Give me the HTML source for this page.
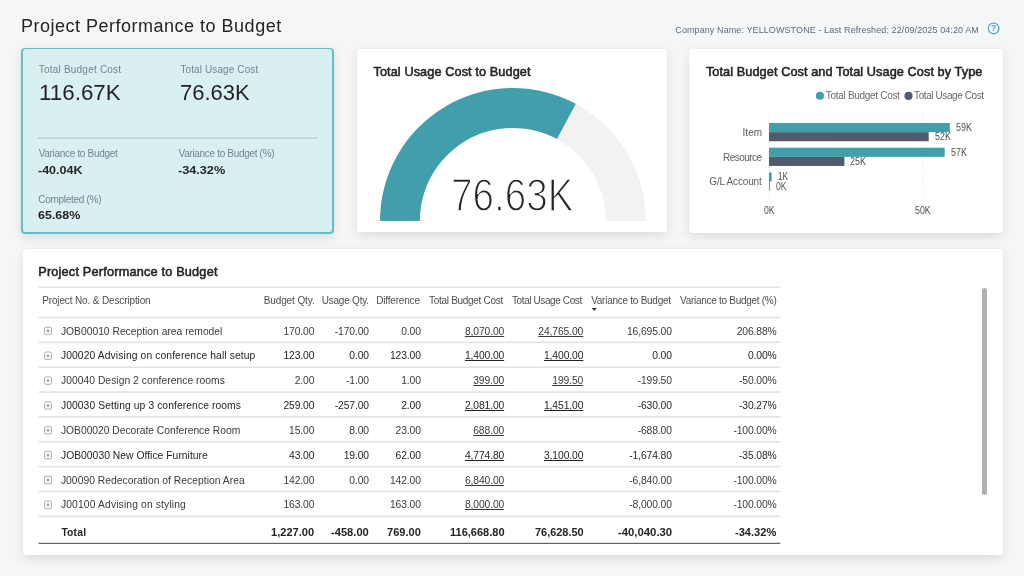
<!DOCTYPE html>
<html lang="en">
<head>
<meta charset="utf-8">
<title>Project Performance to Budget</title>
<style>
*{box-sizing:border-box;margin:0;padding:0}
html,body{width:1024px;height:576px;overflow:hidden}
body{background:#f5f6f8;font-family:"Liberation Sans",Arial,sans-serif;color:#252423;position:relative}
.t{position:absolute;white-space:nowrap;line-height:1;font-weight:400;transform-origin:0 50%;display:block}
.b{font-weight:700}
.sb{-webkit-text-stroke:.55px currentColor}
.card{will-change:transform;position:absolute}
.bg{position:absolute;background:#fff;border-radius:3.5px;box-shadow:0 3.2px 11px rgba(0,0,0,.10),0 0 2px rgba(0,0,0,.05)}
.bg.sel{background:#60bfc8;border-radius:4px}
.bg.sel:before{content:"";position:absolute;left:1.55px;top:1.55px;right:1.55px;bottom:1.55px;background:#d9f0f3;border-radius:2.5px}
.u{text-decoration:underline;text-decoration-thickness:.8px;text-underline-offset:1.2px}
svg{position:absolute;left:0;top:0;overflow:visible}
body:after{content:"";position:absolute;right:0;top:0;width:1px;height:576px;background:#f9fafb}
</style>
</head>
<body>
<header style="will-change:transform;position:absolute;left:0;top:0;width:1024px;height:46px">
<h1 class="t" style="left:21.06px;top:17.1px;font-size:18px;letter-spacing:0.499px;color:#252423;">Project Performance to Budget</h1>
<span class="t" style="left:675.3px;top:26.1px;font-size:9px;letter-spacing:0.092px;color:#5f6b78;">Company Name: YELLOWSTONE - Last Refreshed: 22/09/2025 04:20 AM</span>
<svg width="1024" height="50" viewBox="0 0 1024 50"><circle cx="993.6" cy="28.4" r="5.35" fill="none" stroke="#4fa7b1" stroke-width="1.25"/><text x="993.6" y="31.4" font-size="8.2" font-weight="700" text-anchor="middle" fill="#4aa3ae" font-family="Liberation Sans, Arial, sans-serif">?</text></svg>
</header>
<section class="card" style="left:5px;top:33px;width:347px;height:225px">
<div class="bg sel" style="left:16.4px;top:14.6px;width:312.6px;height:186.4px"></div>
<span class="t" style="left:33.8px;top:32.1px;font-size:10px;letter-spacing:0.209px;color:#73828f;">Total Budget Cost</span>
<span class="t" style="left:33.72px;top:48.1px;font-size:22.7px;transform:scaleX(0.9861);color:#252423;">116.67K</span>
<span class="t" style="left:175.4px;top:32.1px;font-size:10px;letter-spacing:0.11px;color:#73828f;">Total Usage Cost</span>
<span class="t" style="left:174.7px;top:48.1px;font-size:22.7px;transform:scaleX(0.9689);color:#252423;">76.63K</span>
<svg width="340" height="200"><rect x="32.8" y="104.45" width="279.9" height="1.15" fill="#b7c6ce"/></svg>
<span class="t" style="left:33.65px;top:116.1px;font-size:10px;letter-spacing:-0.306px;color:#73828f;">Variance to Budget</span>
<span class="t b" style="left:33.2px;top:131.1px;font-size:11.7px;transform:scaleX(1.0705);color:#252423;">-40.04K</span>
<span class="t" style="left:173.55px;top:116.1px;font-size:10px;letter-spacing:-0.317px;color:#73828f;">Variance to Budget (%)</span>
<span class="t b" style="left:173.09px;top:131.1px;font-size:11.7px;transform:scaleX(1.0836);color:#252423;">-34.32%</span>
<span class="t" style="left:33.2px;top:162.1px;font-size:10px;letter-spacing:-0.279px;color:#73828f;">Completed (%)</span>
<span class="t b" style="left:33.26px;top:176.1px;font-size:11.7px;transform:scaleX(1.0687);color:#252423;">65.68%</span>
</section>
<section class="card" style="left:341px;top:35px;width:345px;height:221px">
<div class="bg" style="left:16px;top:14.3px;width:310.2px;height:182.7px"></div>
<h2 class="t sb" style="left:32.45px;top:31.1px;font-size:12.7px;letter-spacing:0.106px;color:#252423;">Total Usage Cost to Budget</h2>
<svg width="340" height="200"><path d="M39.00 186.00 A132.95 132.95 0 0 1 304.90 186.00 L265.05 186.00 A93.10 93.10 0 0 0 78.85 186.00 Z" fill="#f3f2f1"/><path d="M39.00 186.00 A132.95 132.95 0 0 1 234.83 68.86 L215.98 103.97 A93.10 93.10 0 0 0 78.85 186.00 Z" fill="#419eab"/></svg>
<span class="t" style="left:110.27px;top:137.1px;font-size:46.6px;transform:scaleX(0.8294);color:#252423;-webkit-text-stroke:1.5px #fff;">76.63K</span>
</section>
<section class="card" style="left:673px;top:35px;width:348px;height:222px">
<div class="bg" style="left:16px;top:14.3px;width:314px;height:183.3px"></div>
<h2 class="t sb" style="left:32.95px;top:31.1px;font-size:12.7px;letter-spacing:0.087px;color:#252423;">Total Budget Cost and Total Usage Cost by Type</h2>
<svg width="340" height="200"><line x1="96" y1="78" x2="96" y2="163" stroke="#cfcfcf" stroke-width="0.8" stroke-dasharray="0.8 2.4"/><line x1="250.2" y1="78" x2="250.2" y2="163" stroke="#cfcfcf" stroke-width="0.8" stroke-dasharray="0.8 2.4"/><circle cx="146.9" cy="60.8" r="4.05" fill="#419eab"/><circle cx="235.5" cy="60.9" r="4.05" fill="#525b6e"/><rect x="96" y="88" width="180.8" height="9.15" fill="#419eab"/><rect x="96" y="97.15" width="159.7" height="9.1" fill="#525b6e"/><rect x="96" y="112.7" width="175.7" height="9.15" fill="#419eab"/><rect x="96" y="121.85" width="75.4" height="9.1" fill="#525b6e"/><rect x="96" y="137.4" width="2.6" height="9.15" fill="#419eab"/><rect x="96" y="146.55" width="0.7" height="9.1" fill="#525b6e"/></svg>
<span class="t" style="left:152.8px;top:56.1px;font-size:10px;letter-spacing:-0.303px;color:#6b6967;">Total Budget Cost</span>
<span class="t" style="left:241.1px;top:56.1px;font-size:10px;letter-spacing:-0.41px;color:#6b6967;">Total Usage Cost</span>
<span class="t" style="left:69.5px;top:93.1px;font-size:10px;letter-spacing:0.067px;color:#605e5c;">Item</span>
<span class="t" style="left:50.1px;top:118.1px;font-size:10px;letter-spacing:-0.536px;color:#605e5c;">Resource</span>
<span class="t" style="left:36.3px;top:142.1px;font-size:10px;letter-spacing:-0.165px;color:#605e5c;">G/L Account</span>
<span class="t" style="left:283.24px;top:88.1px;font-size:10px;transform:scaleX(0.8928);color:#52504e;">59K</span>
<span class="t" style="left:262.34px;top:97.1px;font-size:10px;transform:scaleX(0.8928);color:#52504e;">52K</span>
<span class="t" style="left:278.24px;top:113.1px;font-size:10px;transform:scaleX(0.8928);color:#52504e;">57K</span>
<span class="t" style="left:177.45px;top:122.1px;font-size:10px;transform:scaleX(0.8980);color:#52504e;">25K</span>
<span class="t" style="left:105.29px;top:137.1px;font-size:10px;transform:scaleX(0.8194);color:#52504e;">1K</span>
<span class="t" style="left:103.36px;top:147.1px;font-size:10px;transform:scaleX(0.8547);color:#52504e;">0K</span>
<span class="t" style="left:91.15px;top:171.1px;font-size:10px;transform:scaleX(0.8632);color:#52504e;">0K</span>
<span class="t" style="left:242.25px;top:171.1px;font-size:10px;transform:scaleX(0.8812);color:#52504e;">50K</span>
</section>
<section class="card" style="left:7px;top:234px;width:1014px;height:342px">
<div class="bg" style="left:16px;top:14.6px;width:980px;height:306.5px"></div>
<h2 class="t sb" style="left:31.23px;top:32.1px;font-size:12.7px;letter-spacing:0.204px;color:#252423;">Project Performance to Budget</h2>
<div class="thead" role="row">
<span class="t" style="left:35.2px;top:62.1px;font-size:10px;letter-spacing:-0.135px;color:#504e4c;">Project No. &amp; Description</span>
<span class="t" style="left:256.7px;top:62.1px;font-size:10px;letter-spacing:-0.105px;color:#504e4c;">Budget Qty.</span>
<span class="t" style="left:314.75px;top:62.1px;font-size:10px;letter-spacing:-0.222px;color:#504e4c;">Usage Qty.</span>
<span class="t" style="left:369.3px;top:62.1px;font-size:10px;letter-spacing:-0.194px;color:#504e4c;">Difference</span>
<span class="t" style="left:422.1px;top:62.1px;font-size:10px;letter-spacing:-0.303px;color:#504e4c;">Total Budget Cost</span>
<span class="t" style="left:505px;top:62.1px;font-size:10px;letter-spacing:-0.397px;color:#504e4c;">Total Usage Cost</span>
<span class="t" style="left:584.15px;top:62.1px;font-size:10px;letter-spacing:-0.259px;color:#504e4c;">Variance to Budget</span>
<span class="t" style="left:673.05px;top:62.1px;font-size:10px;letter-spacing:-0.283px;color:#504e4c;">Variance to Budget (%)</span>
</div>
<svg width="980" height="300"><path d="M584.8 73.9 h5 l-2.5 2.9z" fill="#252423"/></svg>
<div class="tr" role="row"><svg width="980" height="320"><rect x="37.5" y="93.2" width="7" height="7.4" rx="1.5" fill="none" stroke="#a9a7a5" stroke-width=".9"/><path d="M39.3 96.9h3.4M41 95.2v3.4" stroke="#8f8d8b" stroke-width=".9" fill="none"/></svg><span class="t" style="left:53.95px;top:93.1px;font-size:10.3px;color:#3b3a39;">JOB00010 Reception area remodel</span><span class="t" style="left:276.44px;top:93.1px;font-size:10.3px;letter-spacing:-0.1px;color:#3b3a39;">170.00</span><span class="t" style="left:327.74px;top:93.1px;font-size:10.3px;letter-spacing:-0.1px;color:#3b3a39;">-170.00</span><span class="t" style="left:394.23px;top:93.1px;font-size:10.3px;letter-spacing:-0.1px;color:#3b3a39;">0.00</span><span class="t u" style="left:457.89px;top:93.1px;font-size:10.3px;letter-spacing:-0.1px;color:#3b3a39;">8,070.00</span><span class="t u" style="left:531.33px;top:93.1px;font-size:10.3px;letter-spacing:-0.1px;color:#3b3a39;">24,765.00</span><span class="t" style="left:619.93px;top:93.1px;font-size:10.3px;letter-spacing:-0.1px;color:#3b3a39;">16,695.00</span><span class="t" style="left:729.68px;top:93.1px;font-size:10.3px;letter-spacing:-0.1px;color:#3b3a39;">206.88%</span></div>
<div class="tr" role="row"><svg width="980" height="320"><rect x="37.5" y="118.05" width="7" height="7.4" rx="1.5" fill="none" stroke="#a9a7a5" stroke-width=".9"/><path d="M39.3 121.75h3.4M41 120.05v3.4" stroke="#8f8d8b" stroke-width=".9" fill="none"/></svg><span class="t" style="left:53.95px;top:117.1px;font-size:10.3px;letter-spacing:0.11px;color:#252423;">J00020 Advising on conference hall setup</span><span class="t" style="left:276.44px;top:117.1px;font-size:10.3px;letter-spacing:-0.1px;color:#252423;">123.00</span><span class="t" style="left:342.33px;top:117.1px;font-size:10.3px;letter-spacing:-0.1px;color:#252423;">0.00</span><span class="t" style="left:382.94px;top:117.1px;font-size:10.3px;letter-spacing:-0.1px;color:#252423;">123.00</span><span class="t u" style="left:457.89px;top:117.1px;font-size:10.3px;letter-spacing:-0.1px;color:#252423;">1,400.00</span><span class="t u" style="left:536.99px;top:117.1px;font-size:10.3px;letter-spacing:-0.1px;color:#252423;">1,400.00</span><span class="t" style="left:645.23px;top:117.1px;font-size:10.3px;letter-spacing:-0.1px;color:#252423;">0.00</span><span class="t" style="left:740.96px;top:117.1px;font-size:10.3px;letter-spacing:-0.1px;color:#252423;">0.00%</span></div>
<div class="tr" role="row"><svg width="980" height="320"><rect x="37.5" y="142.9" width="7" height="7.4" rx="1.5" fill="none" stroke="#a9a7a5" stroke-width=".9"/><path d="M39.3 146.6h3.4M41 144.9v3.4" stroke="#8f8d8b" stroke-width=".9" fill="none"/></svg><span class="t" style="left:53.95px;top:142.1px;font-size:10.3px;letter-spacing:0.044px;color:#3b3a39;">J00040 Design 2 conference rooms</span><span class="t" style="left:287.73px;top:142.1px;font-size:10.3px;letter-spacing:-0.1px;color:#3b3a39;">2.00</span><span class="t" style="left:338.98px;top:142.1px;font-size:10.3px;letter-spacing:-0.1px;color:#3b3a39;">-1.00</span><span class="t" style="left:394.23px;top:142.1px;font-size:10.3px;letter-spacing:-0.1px;color:#3b3a39;">1.00</span><span class="t u" style="left:466.24px;top:142.1px;font-size:10.3px;letter-spacing:-0.1px;color:#3b3a39;">399.00</span><span class="t u" style="left:545.34px;top:142.1px;font-size:10.3px;letter-spacing:-0.1px;color:#3b3a39;">199.50</span><span class="t" style="left:630.64px;top:142.1px;font-size:10.3px;letter-spacing:-0.1px;color:#3b3a39;">-199.50</span><span class="t" style="left:731.99px;top:142.1px;font-size:10.3px;letter-spacing:-0.1px;color:#3b3a39;">-50.00%</span></div>
<div class="tr" role="row"><svg width="980" height="320"><rect x="37.5" y="167.75" width="7" height="7.4" rx="1.5" fill="none" stroke="#a9a7a5" stroke-width=".9"/><path d="M39.3 171.45h3.4M41 169.75v3.4" stroke="#8f8d8b" stroke-width=".9" fill="none"/></svg><span class="t" style="left:53.95px;top:167.1px;font-size:10.3px;letter-spacing:0.087px;color:#252423;">J00030 Setting up 3 conference rooms</span><span class="t" style="left:276.44px;top:167.1px;font-size:10.3px;letter-spacing:-0.1px;color:#252423;">259.00</span><span class="t" style="left:327.74px;top:167.1px;font-size:10.3px;letter-spacing:-0.1px;color:#252423;">-257.00</span><span class="t" style="left:394.23px;top:167.1px;font-size:10.3px;letter-spacing:-0.1px;color:#252423;">2.00</span><span class="t u" style="left:457.89px;top:167.1px;font-size:10.3px;letter-spacing:-0.1px;color:#252423;">2,081.00</span><span class="t u" style="left:536.99px;top:167.1px;font-size:10.3px;letter-spacing:-0.1px;color:#252423;">1,451.00</span><span class="t" style="left:630.64px;top:167.1px;font-size:10.3px;letter-spacing:-0.1px;color:#252423;">-630.00</span><span class="t" style="left:731.99px;top:167.1px;font-size:10.3px;letter-spacing:-0.1px;color:#252423;">-30.27%</span></div>
<div class="tr" role="row"><svg width="980" height="320"><rect x="37.5" y="192.6" width="7" height="7.4" rx="1.5" fill="none" stroke="#a9a7a5" stroke-width=".9"/><path d="M39.3 196.3h3.4M41 194.6v3.4" stroke="#8f8d8b" stroke-width=".9" fill="none"/></svg><span class="t" style="left:53.95px;top:192.1px;font-size:10.3px;letter-spacing:-0.014px;color:#3b3a39;">JOB00020 Decorate Conference Room</span><span class="t" style="left:282.11px;top:192.1px;font-size:10.3px;letter-spacing:-0.1px;color:#3b3a39;">15.00</span><span class="t" style="left:342.33px;top:192.1px;font-size:10.3px;letter-spacing:-0.1px;color:#3b3a39;">8.00</span><span class="t" style="left:388.61px;top:192.1px;font-size:10.3px;letter-spacing:-0.1px;color:#3b3a39;">23.00</span><span class="t u" style="left:466.24px;top:192.1px;font-size:10.3px;letter-spacing:-0.1px;color:#3b3a39;">688.00</span><span class="t" style="left:630.64px;top:192.1px;font-size:10.3px;letter-spacing:-0.1px;color:#3b3a39;">-688.00</span><span class="t" style="left:726.38px;top:192.1px;font-size:10.3px;letter-spacing:-0.1px;color:#3b3a39;">-100.00%</span></div>
<div class="tr" role="row"><svg width="980" height="320"><rect x="37.5" y="217.45" width="7" height="7.4" rx="1.5" fill="none" stroke="#a9a7a5" stroke-width=".9"/><path d="M39.3 221.15h3.4M41 219.45v3.4" stroke="#8f8d8b" stroke-width=".9" fill="none"/></svg><span class="t" style="left:53.95px;top:217.1px;font-size:10.3px;letter-spacing:0.04px;color:#252423;">JOB00030 New Office Furniture</span><span class="t" style="left:282.11px;top:217.1px;font-size:10.3px;letter-spacing:-0.1px;color:#252423;">43.00</span><span class="t" style="left:336.71px;top:217.1px;font-size:10.3px;letter-spacing:-0.1px;color:#252423;">19.00</span><span class="t" style="left:388.61px;top:217.1px;font-size:10.3px;letter-spacing:-0.1px;color:#252423;">62.00</span><span class="t u" style="left:457.89px;top:217.1px;font-size:10.3px;letter-spacing:-0.1px;color:#252423;">4,774.80</span><span class="t u" style="left:536.99px;top:217.1px;font-size:10.3px;letter-spacing:-0.1px;color:#252423;">3,100.00</span><span class="t" style="left:622.24px;top:217.1px;font-size:10.3px;letter-spacing:-0.1px;color:#252423;">-1,674.80</span><span class="t" style="left:731.99px;top:217.1px;font-size:10.3px;letter-spacing:-0.1px;color:#252423;">-35.08%</span></div>
<div class="tr" role="row"><svg width="980" height="320"><rect x="37.5" y="242.3" width="7" height="7.4" rx="1.5" fill="none" stroke="#a9a7a5" stroke-width=".9"/><path d="M39.3 246h3.4M41 244.3v3.4" stroke="#8f8d8b" stroke-width=".9" fill="none"/></svg><span class="t" style="left:53.95px;top:242.1px;font-size:10.3px;letter-spacing:0.03px;color:#3b3a39;">J00090 Redecoration of Reception Area</span><span class="t" style="left:276.44px;top:242.1px;font-size:10.3px;letter-spacing:-0.1px;color:#3b3a39;">142.00</span><span class="t" style="left:342.33px;top:242.1px;font-size:10.3px;letter-spacing:-0.1px;color:#3b3a39;">0.00</span><span class="t" style="left:382.94px;top:242.1px;font-size:10.3px;letter-spacing:-0.1px;color:#3b3a39;">142.00</span><span class="t u" style="left:457.89px;top:242.1px;font-size:10.3px;letter-spacing:-0.1px;color:#3b3a39;">6,840.00</span><span class="t" style="left:622.24px;top:242.1px;font-size:10.3px;letter-spacing:-0.1px;color:#3b3a39;">-6,840.00</span><span class="t" style="left:726.38px;top:242.1px;font-size:10.3px;letter-spacing:-0.1px;color:#3b3a39;">-100.00%</span></div>
<div class="tr" role="row"><svg width="980" height="320"><rect x="37.5" y="267.15" width="7" height="7.4" rx="1.5" fill="none" stroke="#a9a7a5" stroke-width=".9"/><path d="M39.3 270.85h3.4M41 269.15v3.4" stroke="#8f8d8b" stroke-width=".9" fill="none"/></svg><span class="t" style="left:53.95px;top:266.1px;font-size:10.3px;letter-spacing:0.142px;color:#3b3a39;">J00100 Advising on styling</span><span class="t" style="left:276.44px;top:266.1px;font-size:10.3px;letter-spacing:-0.1px;color:#3b3a39;">163.00</span><span class="t" style="left:382.94px;top:266.1px;font-size:10.3px;letter-spacing:-0.1px;color:#3b3a39;">163.00</span><span class="t u" style="left:457.89px;top:266.1px;font-size:10.3px;letter-spacing:-0.1px;color:#3b3a39;">8,000.00</span><span class="t" style="left:622.24px;top:266.1px;font-size:10.3px;letter-spacing:-0.1px;color:#3b3a39;">-8,000.00</span><span class="t" style="left:726.38px;top:266.1px;font-size:10.3px;letter-spacing:-0.1px;color:#3b3a39;">-100.00%</span></div>
<div class="tr total" role="row"><span class="t b" style="left:54.4px;top:294.1px;font-size:10.3px;letter-spacing:0.195px;color:#252423;">Total</span><span class="t b" style="left:264.44px;top:294.1px;font-size:10.3px;transform:scaleX(1.0759);color:#252423;">1,227.00</span><span class="t b" style="left:324.35px;top:294.1px;font-size:10.3px;transform:scaleX(1.0823);color:#252423;">-458.00</span><span class="t b" style="left:380.16px;top:294.1px;font-size:10.3px;transform:scaleX(1.0751);color:#252423;">769.00</span><span class="t b" style="left:442.74px;top:294.1px;font-size:10.3px;transform:scaleX(1.0710);color:#252423;">116,668.80</span><span class="t b" style="left:527.76px;top:294.1px;font-size:10.3px;transform:scaleX(1.0620);color:#252423;">76,628.50</span><span class="t b" style="left:610.95px;top:294.1px;font-size:10.3px;transform:scaleX(1.0989);color:#252423;">-40,040.30</span><span class="t b" style="left:728.36px;top:294.1px;font-size:10.3px;transform:scaleX(1.0770);color:#252423;">-34.32%</span></div>
<svg width="1000" height="320"><rect x="31.5" y="52.45" width="741.9" height="1.6" fill="#e2e3e6"/><rect x="31.5" y="82.7" width="741.9" height="1.6" fill="#e2e3e6"/><rect x="31.5" y="107.55" width="741.9" height="1.6" fill="#e2e3e6"/><rect x="31.5" y="132.4" width="741.9" height="1.6" fill="#e2e3e6"/><rect x="31.5" y="157.25" width="741.9" height="1.6" fill="#e2e3e6"/><rect x="31.5" y="182.1" width="741.9" height="1.6" fill="#e2e3e6"/><rect x="31.5" y="206.95" width="741.9" height="1.6" fill="#e2e3e6"/><rect x="31.5" y="231.8" width="741.9" height="1.6" fill="#e2e3e6"/><rect x="31.5" y="256.65" width="741.9" height="1.6" fill="#e2e3e6"/><rect x="31.5" y="281.5" width="741.9" height="1.6" fill="#e2e3e6"/><rect x="31.5" y="308.77" width="741.9" height="1.15" fill="#5c5c5c"/></svg>
<div style="position:absolute;left:975px;top:53.6px;width:5px;height:207.4px;border-radius:2.5px;background:#b1b0af"></div>
</section>
</body>
</html>
